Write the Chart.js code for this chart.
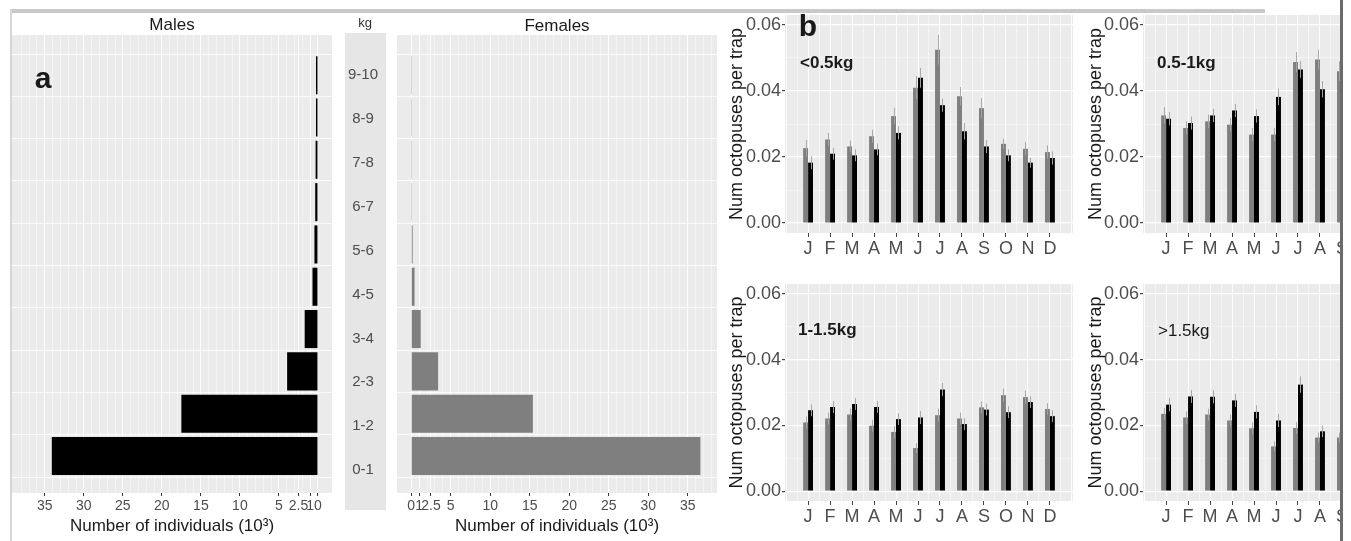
<!DOCTYPE html>
<html><head><meta charset="utf-8">
<script src="https://cdn.jsdelivr.net/npm/chart.js@4.4.1/dist/chart.umd.min.js"></script>
<style>
html,body{margin:0;padding:0;background:#fff;}
body{width:1351px;height:541px;position:relative;overflow:hidden;font-family:"Liberation Sans",Arial,sans-serif;color:#1a1a1a;}
canvas{position:absolute;display:block;}
.t{position:absolute;transform:translate(-50%,-50%);white-space:nowrap;line-height:1;}
.tl{position:absolute;transform:translate(0,-50%);white-space:nowrap;line-height:1;}
.clip{position:absolute;overflow:hidden;}
.frame{position:absolute;}
</style></head><body>

<canvas id="males" width="340" height="541" style="left:0;top:0"></canvas>
<canvas id="strip" width="41" height="477" style="left:345px;top:33px"></canvas>
<canvas id="females" width="340" height="541" style="left:390px;top:0"></canvas>
<canvas id="bTL" width="360" height="270" style="left:720px;top:0"></canvas>
<canvas id="bBL" width="360" height="271" style="left:720px;top:270px"></canvas>
<div class="clip" style="left:1080px;top:0;width:260px;height:541px;">
  <canvas id="bTR" width="360" height="270" style="left:0;top:0"></canvas>
  <canvas id="bBR" width="360" height="271" style="left:0;top:270px"></canvas>
</div>

<div class="t" style="left:172px;top:24px;font-size:17px;">Males</div>
<div class="t" style="left:365px;top:22px;font-size:13px;color:#333;">kg</div>
<div class="t" style="left:557px;top:25px;font-size:17px;">Females</div>
<div class="t" style="left:43px;top:78px;font-size:30px;font-weight:bold;">a</div>
<div class="t" style="left:808px;top:26px;font-size:30px;font-weight:bold;">b</div>
<div class="tl" style="left:800px;top:62px;font-size:17px;font-weight:bold;">&lt;0.5kg</div>
<div class="tl" style="left:1157px;top:62px;font-size:17px;font-weight:bold;">0.5-1kg</div>
<div class="tl" style="left:798px;top:329px;font-size:17px;font-weight:bold;">1-1.5kg</div>
<div class="tl" style="left:1158px;top:330px;font-size:17px;">&gt;1.5kg</div>

<div class="frame" style="left:10px;top:9px;width:1255px;height:4px;background:#c9c9c9;"></div>
<div class="frame" style="left:10px;top:9px;width:2px;height:532px;background:#d6d6d6;"></div>
<div class="frame" style="left:1340px;top:0;width:3px;height:541px;background:#6b6b6b;"></div>

<script>
// ---------- Data ----------
const sizeClasses = ['0-1','1-2','2-3','3-4','4-5','5-6','6-7','7-8','8-9','9-10'];
const malesN   = [34.1, 17.5, 3.95, 1.7, 0.7, 0.45, 0.35, 0.3, 0.25, 0.25];
const femalesN = [36.6, 15.4, 3.4, 1.2, 0.42, 0.18, 0.1, 0.1, 0.1, 0.1];
const countTicks = [0, 1, 2.5, 5, 10, 15, 20, 25, 30, 35];

const months = ['J','F','M','A','M','J','J','A','S','O','N','D'];
const rateTicks = [0, 0.02, 0.04, 0.06];

const lt05F   = [0.0227,0.0253,0.0232,0.0263,0.0324,0.0410,0.0525,0.0384,0.0348,0.0240,0.0225,0.0215];
const lt05M   = [0.0183,0.0210,0.0205,0.0223,0.0273,0.0440,0.0357,0.0278,0.0232,0.0205,0.0183,0.0197];
const lt05Fse = [0.0025,0.0020,0.0018,0.0020,0.0025,0.0035,0.0045,0.0028,0.0030,0.0015,0.0020,0.0020];
const lt05Mse = [0.0020,0.0018,0.0018,0.0018,0.0020,0.0030,0.0020,0.0025,0.0020,0.0018,0.0015,0.0020];

const w05to1F   = [0.0326,0.0288,0.0308,0.0298,0.0268,0.0268,0.0488,0.0495,0.0460,0.0400,0.0360,0.0340];
const w05to1M   = [0.0316,0.0303,0.0326,0.0341,0.0324,0.0382,0.0465,0.0405,0.0410,0.0370,0.0350,0.0330];
const w05to1Fse = [0.0025,0.0020,0.0020,0.0020,0.0020,0.0020,0.0030,0.0030,0.0030,0.0025,0.0025,0.0025];
const w05to1Mse = [0.0020,0.0020,0.0020,0.0020,0.0020,0.0025,0.0025,0.0025,0.0025,0.0025,0.0025,0.0025];

const w1to15F   = [0.0209,0.0221,0.0233,0.0199,0.0180,0.0131,0.0231,0.0221,0.0255,0.0292,0.0286,0.0250];
const w1to15M   = [0.0246,0.0256,0.0265,0.0256,0.0219,0.0224,0.0309,0.0204,0.0248,0.0240,0.0271,0.0228];
const w1to15Fse = [0.0018,0.0018,0.0018,0.0018,0.0018,0.0015,0.0020,0.0018,0.0018,0.0020,0.0020,0.0018];
const w1to15Mse = [0.0018,0.0018,0.0018,0.0018,0.0018,0.0020,0.0020,0.0018,0.0018,0.0018,0.0018,0.0018];

const gt15F   = [0.0235,0.0224,0.0233,0.0215,0.0191,0.0136,0.0192,0.0163,0.0163,0.0190,0.0210,0.0220];
const gt15M   = [0.0263,0.0288,0.0287,0.0276,0.0241,0.0215,0.0324,0.0182,0.0200,0.0220,0.0240,0.0250];
const gt15Fse = [0.0018,0.0018,0.0018,0.0018,0.0018,0.0015,0.0018,0.0015,0.0015,0.0018,0.0018,0.0018];
const gt15Mse = [0.0020,0.0020,0.0020,0.0020,0.0020,0.0020,0.0025,0.0018,0.0018,0.0018,0.0018,0.0018];

// ---------- Setup ----------
Chart.defaults.font.family = '"Liberation Sans", Arial, sans-serif';
Chart.defaults.color = '#4d4d4d';

const panelBg = {
  id: 'panelBg',
  beforeDraw(chart, args, opts) {
    const {ctx, chartArea: a} = chart;
    ctx.save();
    ctx.fillStyle = opts.color || '#ebebeb';
    ctx.fillRect(a.left, a.top, a.right - a.left, a.bottom - a.top);
    ctx.restore();
  }
};

const errorBars = {
  id: 'errorBars',
  afterDatasetsDraw(chart) {
    const {ctx} = chart;
    const ys = chart.scales.y;
    chart.data.datasets.forEach((ds, i) => {
      if (!ds.errors) return;
      const meta = chart.getDatasetMeta(i);
      meta.data.forEach((bar, j) => {
        const v = ds.data[j].y, e = ds.errors[j];
        ctx.save();
        ctx.strokeStyle = 'rgba(165,165,165,0.95)';
        ctx.lineWidth = 1;
        ctx.beginPath();
        const x = Math.round(bar.x) + 0.5;
        ctx.moveTo(x, ys.getPixelForValue(v - e));
        ctx.lineTo(x, ys.getPixelForValue(v + e));
        ctx.stroke();
        ctx.restore();
      });
    });
  }
};

const el = id => document.getElementById(id);
const near = (a, b) => Math.abs(a - b) < 1e-9;
const noScalePad = s => { s.paddingTop = 0; s.paddingBottom = 0; s.paddingLeft = 0; s.paddingRight = 0; };

const countGrid = [];
for (let k = 0; k <= 38; k++) countGrid.push(k);
countGrid.push(2.5);
countGrid.sort((a, b) => a - b);
const halfSteps = [];
for (let k = 0; k < sizeClasses.length + 1; k++) halfSteps.push(k - 0.5);

function countChart(id, values, color, reverse, min, max, padL, padR) {
  return new Chart(el(id), {
    type: 'bar',
    data: { datasets: [{
      data: values.map((v, i) => ({x: v, y: i})),
      backgroundColor: color, barPercentage: 0.9, categoryPercentage: 1
    }]},
    options: {
      indexAxis: 'y', responsive: false, animation: false, devicePixelRatio: 1,
      layout: { padding: {left: padL, right: padR, top: 35, bottom: 0} },
      plugins: { legend: {display: false}, tooltip: {enabled: false}, panelBg: {color: '#ebebeb'} },
      scales: {
        x: {
          type: 'linear', reverse: reverse, min: min, max: max, offset: false,
          afterBuildTicks: s => { s.ticks = countGrid.map(v => ({value: v})); },
          ticks: { autoSkip: false, maxRotation: 0, padding: 2, color: '#4d4d4d', font: {size: 14},
                   callback: v => countTicks.some(t => near(t, v)) ? String(v) : '' },
          grid: { offset: false,
                  color: c => (c.tick && countTicks.some(t => near(t, c.tick.value))) ? 'rgba(255,255,255,0.85)' : 'rgba(255,255,255,0.45)',
                  lineWidth: 1, tickLength: 3,
                  tickColor: c => (c.tick && countTicks.some(t => near(t, c.tick.value))) ? '#333' : 'rgba(0,0,0,0)' },
          border: { display: false },
          title: { display: true, text: 'Number of individuals (10³)', color: '#1a1a1a', font: {size: 17}, padding: {top: 0, bottom: 4} },
          afterFit: s => { s.height = 48; noScalePad(s); }
        },
        y: {
          type: 'linear', min: -0.875, max: 9.95, offset: false,
          afterBuildTicks: s => { s.ticks = halfSteps.map(v => ({value: v})); },
          ticks: { display: false },
          grid: { offset: false, color: 'rgba(255,255,255,0.8)', drawTicks: false },
          border: { display: false },
          afterFit: s => { s.width = 0; noScalePad(s); }
        }
      }
    },
    plugins: [panelBg]
  });
}

countChart('males', malesN, '#000000', true, -1.8, 39.2, 12, 8);
countChart('females', femalesN, '#7f7f7f', false, -1.8, 38.7, 7, 13);

new Chart(el('strip'), {
  type: 'bar',
  data: { labels: sizeClasses, datasets: [{ data: [] }] },
  options: {
    indexAxis: 'y', responsive: false, animation: false, devicePixelRatio: 1,
    layout: { padding: 0 },
    plugins: { legend: {display: false}, tooltip: {enabled: false}, panelBg: {color: '#e6e6e6'} },
    scales: {
      x: { type: 'linear', display: false, min: 0, max: 1 },
      y: {
        type: 'linear', min: -0.91, max: 9.96, offset: false,
        afterBuildTicks: s => { s.ticks = sizeClasses.map((c, i) => ({value: i})); },
        ticks: { mirror: true, crossAlign: 'center', padding: 3, autoSkip: false, color: '#4d4d4d', font: {size: 15},
                 callback: v => sizeClasses[v] },
        grid: { display: false, offset: false }, border: { display: false },
        afterFit: s => { s.width = 0; noScalePad(s); }
      }
    }
  },
  plugins: [panelBg]
});

const monthGrid = [];
for (let k = -2; k <= 24; k++) monthGrid.push(k / 2);
const rateGrid = [0, 1, 2, 3, 4, 5, 6].map(k => k / 100);
const isMajorRate = v => rateTicks.some(t => near(t, v));
const isMonth = v => near(v, Math.round(v));

function monthChart(id, fem, mal, femSE, malSE, g) {
  return new Chart(el(id), {
    type: 'bar',
    data: { datasets: [
      { label: 'Females', data: fem.map((v, i) => ({x: i, y: v})), errors: femSE,
        backgroundColor: '#7f7f7f', categoryPercentage: 0.9, barPercentage: 1 },
      { label: 'Males', data: mal.map((v, i) => ({x: i, y: v})), errors: malSE,
        backgroundColor: '#000000', categoryPercentage: 0.9, barPercentage: 1 }
    ]},
    options: {
      responsive: false, animation: false, devicePixelRatio: 1,
      layout: { padding: {left: 0, right: g.padR, top: g.padT, bottom: 0} },
      plugins: { legend: {display: false}, tooltip: {enabled: false}, panelBg: {color: '#ebebeb'} },
      scales: {
        x: {
          type: 'linear', min: -1.05, max: 12.05, offset: false,
          afterBuildTicks: s => { s.ticks = monthGrid.map(v => ({value: v})); },
          ticks: { autoSkip: false, maxRotation: 0, padding: 1, color: '#4d4d4d', font: {size: 18},
                   callback: v => isMonth(v) && v >= 0 && v <= 11 ? months[Math.round(v)] : '' },
          grid: { offset: false,
                  color: c => (c.tick && isMonth(c.tick.value)) ? 'rgba(255,255,255,0.85)' : 'rgba(255,255,255,0.5)',
                  lineWidth: 1, tickLength: 4,
                  tickColor: c => (c.tick && isMonth(c.tick.value) && c.tick.value >= 0 && c.tick.value <= 11) ? '#444' : 'rgba(0,0,0,0)' },
          border: { display: false },
          afterFit: s => { s.height = g.xH; noScalePad(s); }
        },
        y: {
          type: 'linear', min: -0.003, max: 0.063,
          afterBuildTicks: s => { s.ticks = rateGrid.map(v => ({value: v})); },
          ticks: { autoSkip: false, padding: 1, color: '#4d4d4d', font: {size: 18},
                   callback: v => isMajorRate(v) ? v.toFixed(2) : '' },
          grid: { color: c => (c.tick && isMajorRate(c.tick.value)) ? '#ffffff' : 'rgba(255,255,255,0.6)',
                  lineWidth: c => (c.tick && isMajorRate(c.tick.value)) ? 1.2 : 0.6, tickLength: 3,
                  tickColor: c => (c.tick && isMajorRate(c.tick.value)) ? '#444' : 'rgba(0,0,0,0)' },
          border: { display: false },
          title: { display: true, text: 'Num octopuses per trap', color: '#1a1a1a', font: {size: 18}, padding: {top: g.titlePad, bottom: 0} },
          afterFit: s => { s.width = g.yW; noScalePad(s); }
        }
      }
    },
    plugins: [panelBg, errorBars]
  });
}

monthChart('bTL', lt05F, lt05M, lt05Fse, lt05Mse,   {padR: 7, padT: 15, xH: 37, yW: 65, titlePad: 6});
monthChart('bTR', w05to1F, w05to1M, w05to1Fse, w05to1Mse, {padR: 9, padT: 15, xH: 37, yW: 63, titlePad: 5});
monthChart('bBL', w1to15F, w1to15M, w1to15Fse, w1to15Mse, {padR: 7, padT: 14, xH: 40, yW: 65, titlePad: 6});
monthChart('bBR', gt15F, gt15M, gt15Fse, gt15Mse,   {padR: 9, padT: 14, xH: 40, yW: 63, titlePad: 5});
</script>
</body></html>
